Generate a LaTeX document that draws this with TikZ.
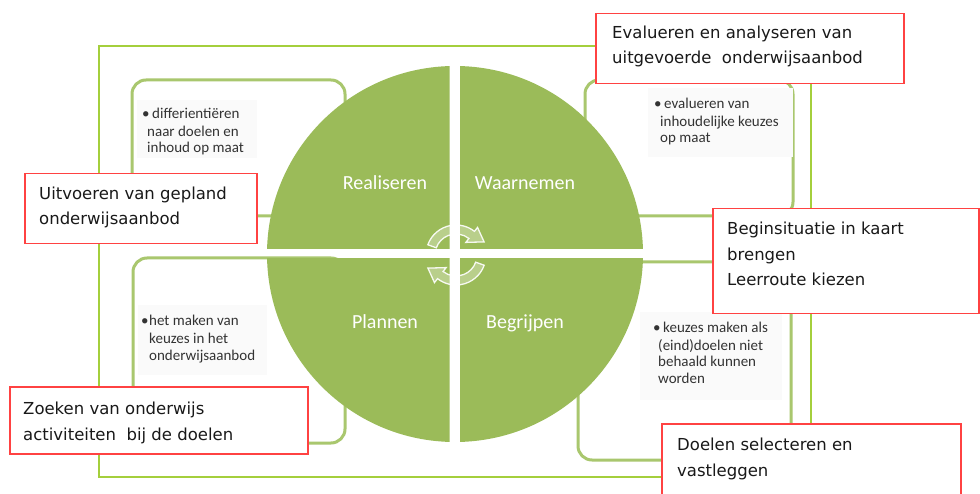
\documentclass[tikz,border=0pt]{standalone}
\usepackage{fontspec}
\setmainfont{Carlito}
\newfontfamily\boxfont{DejaVu Sans}
\usetikzlibrary{calc}
\definecolor{circgreen}{HTML}{9BBB59}
\definecolor{boxgreen}{HTML}{A9C76E}
\definecolor{limegreen}{HTML}{A4CF3C}
\definecolor{redline}{HTML}{FF4242}
\definecolor{bultext}{HTML}{333333}
\tikzset{
  frame/.style={draw=limegreen, line width=1.5pt},
  panel/.style={draw=boxgreen, line width=3pt, rounded corners=14pt, fill=white},
  shadebg/.style={fill=black!1.8, draw=none},
  redbox/.style={draw=redline, line width=1.5pt, fill=white, inner sep=0pt, anchor=north west},
  rtext/.style={anchor=base west, inner sep=0pt, font=\boxfont\fontsize{16.5}{20}\selectfont, text=black!90},
  btext/.style={anchor=base west, inner sep=0pt, font=\fontsize{15}{17}\selectfont, text=bultext},
  qlabel/.style={anchor=base, inner sep=0pt, font=\fontsize{20}{24}\selectfont, text=white},
  cyc/.style={fill=white, fill opacity=0.3, draw=white, draw opacity=0.9, line width=1.3pt},
}
\begin{document}
\begin{tikzpicture}[x=1pt,y=-1pt]
\useasboundingbox (0,0) rectangle (980,494);
\clip (0,0) rectangle (980,494);
\fill[white] (0,0) rectangle (980,494);

% outer frame
\draw[frame] (99,46) rectangle (811,477);

% panels
\draw[panel] (132,80) rectangle (345,216);
\draw[panel] (585,80) rectangle (793,216);
\draw[panel] (133,258) rectangle (345,443);
\draw[panel] (578,262) rectangle (791,460);

% faint text backgrounds
\fill[shadebg] (137,100) rectangle (257,158);
\fill[shadebg] (648,88) rectangle (793,157);
\fill[shadebg] (138,305) rectangle (267,375);
\fill[shadebg] (640,312) rectangle (782,400);

% bullet texts
\node[btext] (tl1) at (152,119) {\llap{•\hspace{2.5pt}}differientiëren};
\node[btext] (tl2) at (147,136.5) {naar doelen en};
\node[btext] (tl3) at (147,153) {inhoud op maat};

\node[btext] (tr1) at (664,109) {\llap{•\hspace{2.5pt}}evalueren van};
\node[btext] (tr2) at (660,126.5) {inhoudelijke keuzes};
\node[btext] (tr3) at (660,143) {op maat};

\node[btext] (bl1) at (149,326) {\llap{•\hspace{0.5pt}}het maken van};
\node[btext] (bl2) at (149,343) {keuzes in het};
\node[btext] (bl3) at (149,360) {onderwijsaanbod};

\node[btext] (br1) at (663,333) {\llap{•\hspace{2.5pt}}keuzes maken als};
\node[btext] (br2) at (658,350) {(eind)doelen niet};
\node[btext] (br3) at (658,366.5) {behaald kunnen};
\node[btext] (br4) at (658,383) {worden};

% circle quadrants
\coordinate (O) at (455,254);
\begin{scope}\clip (0,0) rectangle (449.5,249); \fill[circgreen] (O) circle (188); \end{scope}
\begin{scope}\clip (460,0) rectangle (980,249); \fill[circgreen] (O) circle (188); \end{scope}
\begin{scope}\clip (0,258.5) rectangle (449.5,494); \fill[circgreen] (O) circle (188); \end{scope}
\begin{scope}\clip (460,258.5) rectangle (980,494); \fill[circgreen] (O) circle (188); \end{scope}

% cycle arrows
\coordinate (C) at (456,255);
\path[cyc] ($(C)+(-160:30)$) arc[start angle=-160, end angle=-52, radius=30]
  -- ($(C)+(-52:35)$) -- ($(C)+(-25:31)$) -- ($(C)+(-52:16)$) -- ($(C)+(-52:21)$)
  arc[start angle=-52, end angle=-160, radius=21] -- cycle;
\path[cyc] ($(C)+(20:30)$) arc[start angle=20, end angle=128, radius=30]
  -- ($(C)+(128:35)$) -- ($(C)+(155:31)$) -- ($(C)+(128:16)$) -- ($(C)+(128:21)$)
  arc[start angle=128, end angle=20, radius=21] -- cycle;

% quadrant labels
\node[qlabel] (q1) at (385,190) {Realiseren};
\node[qlabel] (q2) at (525,190) {Waarnemen};
\node[qlabel] (q3) at (385,329) {Plannen};
\node[qlabel] (q4) at (525,329) {Begrijpen};

% red boxes
\node[redbox, minimum width=308pt, minimum height=70pt] (r1) at (595,13) {};
\node[rtext] (r1a) at (612,39) {Evalueren en analyseren van};
\node[rtext] (r1b) at (612,63.5) {uitgevoerde\ \ onderwijsaanbod};

\node[redbox, minimum width=232pt, minimum height=70pt] (r2) at (24,173) {};
\node[rtext] (r2a) at (39,199.5) {Uitvoeren van gepland};
\node[rtext] (r2b) at (39,225) {onderwijsaanbod};

\node[redbox, minimum width=266pt, minimum height=105pt] (r3) at (712,208) {};
\node[rtext] (r3a) at (727,235) {Beginsituatie in kaart};
\node[rtext] (r3b) at (727,261) {brengen};
\node[rtext] (r3c) at (727,286) {Leerroute kiezen};

\node[redbox, minimum width=298pt, minimum height=67pt] (r4) at (9,386) {};
\node[rtext] (r4a) at (23,414) {Zoeken van onderwijs};
\node[rtext] (r4b) at (23,440) {activiteiten\ \ bij de doelen};

\node[redbox, minimum width=299pt, minimum height=80pt] (r5) at (661,423) {};
\node[rtext] (r5a) at (677,450) {Doelen selecteren en};
\node[rtext] (r5b) at (677,476) {vastleggen};
\end{tikzpicture}
\end{document}
